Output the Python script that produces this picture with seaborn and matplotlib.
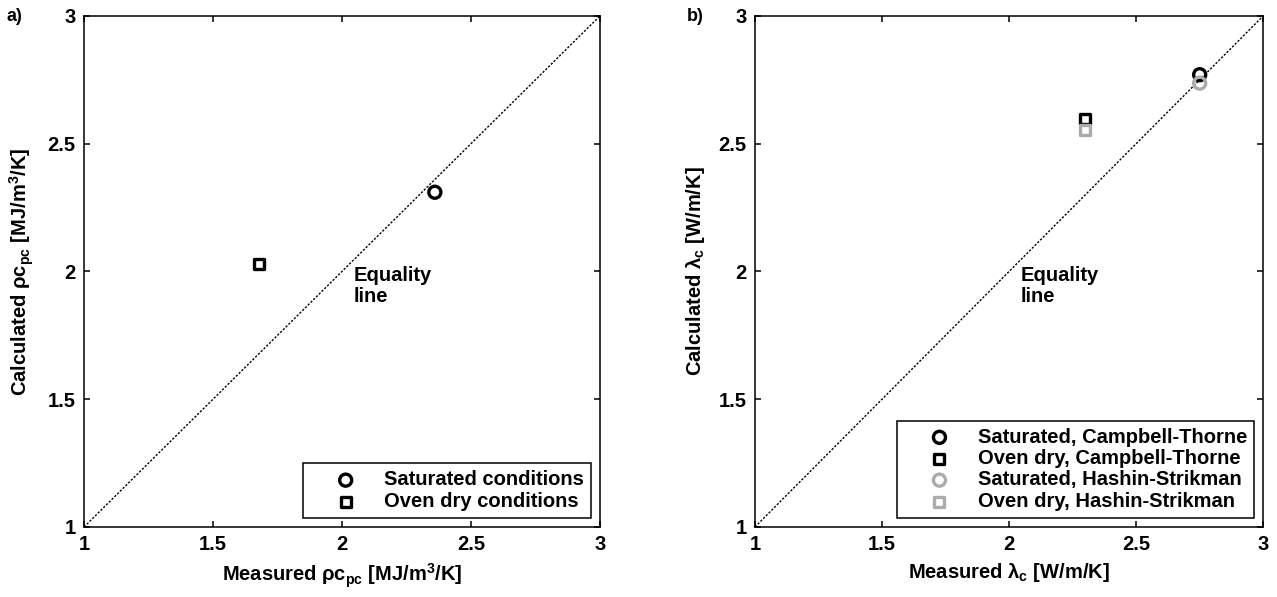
"""Measured vs calculated heat capacity and thermal conductivity."""

import matplotlib
matplotlib.use("Agg")
import matplotlib.pyplot as plt
import seaborn as sns
import pandas as pd

# panel a) volumetric heat capacity [MJ/m3/K]
cap_labels = ["Saturated conditions", "Oven dry conditions"]
cap_measured = [2.36, 1.68]
cap_calculated = [2.31, 2.03]

# panel b) thermal conductivity [W/m/K]
cond_labels = [
    "Saturated, Campbell-Thorne",
    "Oven dry, Campbell-Thorne",
    "Saturated, Hashin-Strikman",
    "Oven dry, Hashin-Strikman",
]
cond_measured = [2.75, 2.30, 2.75, 2.30]
cond_calculated = [2.77, 2.595, 2.737, 2.555]

axis_ticks = [1, 1.5, 2, 2.5, 3]
tick_labels = ["1", "1.5", "2", "2.5", "3"]

sns.set_style("ticks")
plt.rcParams["font.family"] = ["Liberation Sans", "DejaVu Sans"]
plt.rcParams["font.weight"] = "bold"
plt.rcParams["text.color"] = "black"
plt.rcParams["axes.labelcolor"] = "black"
plt.rcParams["mathtext.fontset"] = "custom"
plt.rcParams["mathtext.rm"] = "Liberation Sans:bold"
plt.rcParams["mathtext.it"] = "Liberation Sans:bold"
plt.rcParams["mathtext.bf"] = "Liberation Sans:bold"

BLACK = "#000000"
GREY = "#ababab"
FS = 14.5

fig = plt.figure(figsize=(12.77, 5.97), dpi=100)
ax_a = fig.add_axes([0.0658, 0.1173, 0.404, 0.856])
ax_b = fig.add_axes([0.5912, 0.1173, 0.398, 0.856])

cap = pd.DataFrame({"label": cap_labels, "measured": cap_measured,
                    "calculated": cap_calculated})
cond = pd.DataFrame({"label": cond_labels, "measured": cond_measured,
                     "calculated": cond_calculated})

styles = {
    "Saturated conditions": ("o", BLACK, 75),
    "Oven dry conditions": ("s", BLACK, 52),
    "Saturated, Campbell-Thorne": ("o", BLACK, 75),
    "Oven dry, Campbell-Thorne": ("s", BLACK, 52),
    "Saturated, Hashin-Strikman": ("o", GREY, 75),
    "Oven dry, Hashin-Strikman": ("s", GREY, 52),
}

for ax, df in [(ax_a, cap), (ax_b, cond)]:
    ax.plot(axis_ticks[::4], axis_ticks[::4], color="black", lw=1,
            linestyle=(0, (1.6, 1.2)), zorder=1)
    for _, row in df.iterrows():
        marker, color, size = styles[row["label"]]
        sns.scatterplot(x=[row["measured"]], y=[row["calculated"]], ax=ax,
                        marker=marker, s=size, facecolor="none",
                        edgecolor=color, linewidth=2.4, label=row["label"],
                        zorder=3)
    ax.text(2.045, 2.02, "Equality\nline", ha="left", va="top",
            fontsize=FS, fontweight="bold", linespacing=1.1)
    ax.set_xlim(1, 3)
    ax.set_ylim(1, 3)
    ax.set_xticks(axis_ticks)
    ax.set_yticks(axis_ticks)
    ax.set_xticklabels(tick_labels)
    ax.set_yticklabels(tick_labels)
    ax.tick_params(direction="in", length=4, width=1.1, top=True, right=True,
                   labelsize=FS, pad=6, colors="black")
    for sp in ax.spines.values():
        sp.set_visible(True)
        sp.set_linewidth(1.1)
        sp.set_color("black")
    leg = ax.legend(loc="lower right", fontsize=FS, frameon=True,
                    fancybox=False, framealpha=1, edgecolor="black",
                    borderaxespad=0.45, handletextpad=0.15, labelspacing=0.12,
                    borderpad=0.35, handlelength=3.5)
    leg.get_frame().set_linewidth(1.1)

ax_a.set_xlabel("Measured ρc$_{pc}$ [MJ/m$^3$/K]", fontsize=FS,
                fontweight="bold", labelpad=5)
ax_a.set_ylabel("Calculated ρc$_{pc}$ [MJ/m$^3$/K]", fontsize=FS,
                fontweight="bold", labelpad=8)
ax_b.set_xlabel("Measured λ$_c$ [W/m/K]", fontsize=FS, fontweight="bold",
                labelpad=5)
ax_b.set_ylabel("Calculated λ$_c$ [W/m/K]", fontsize=FS, fontweight="bold",
                labelpad=8)

fig.text(0.005, 0.972, "a)", fontsize=13, fontweight="bold", va="center")
fig.text(0.538, 0.972, "b)", fontsize=13, fontweight="bold", va="center")

fig.savefig("out.png", dpi=100)
